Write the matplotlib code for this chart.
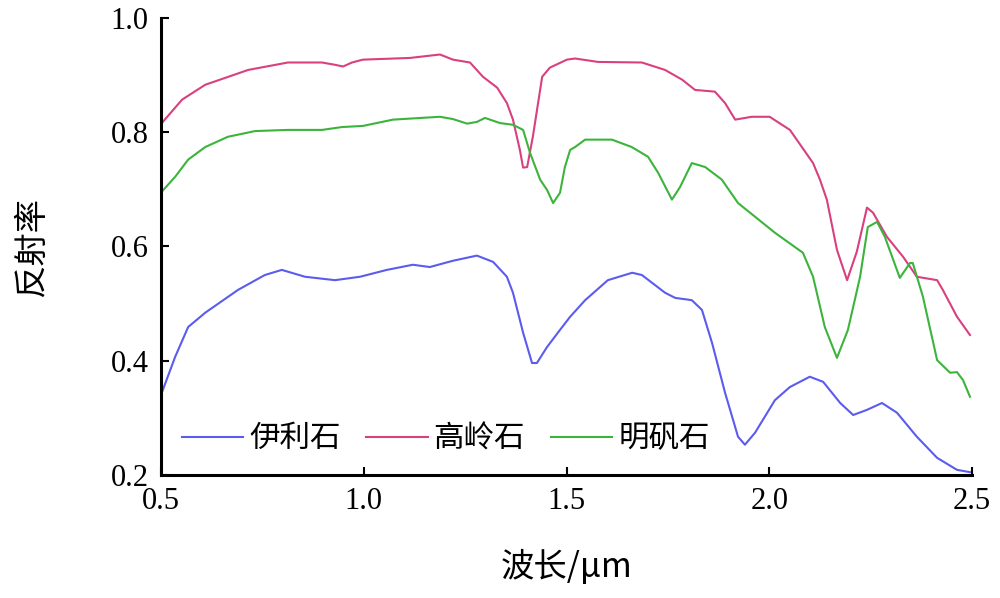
import matplotlib
matplotlib.use("Agg")
import matplotlib.pyplot as plt

plt.rcParams['font.family'] = ['Liberation Serif', 'Noto Sans CJK SC', 'DejaVu Sans']

# Illite (伊利石)
illite_x = [0.502, 0.535, 0.567, 0.609, 0.690, 0.756, 0.798, 0.855, 0.929, 0.991,
            1.057, 1.121, 1.163, 1.220, 1.279, 1.319, 1.353, 1.368, 1.393, 1.415,
            1.427, 1.452, 1.484, 1.509, 1.546, 1.602, 1.662, 1.686, 1.743, 1.768,
            1.809, 1.834, 1.859, 1.891, 1.923, 1.940, 1.965, 2.014, 2.051, 2.100,
            2.133, 2.175, 2.207, 2.241, 2.278, 2.315, 2.364, 2.414, 2.463, 2.495]
illite_y = [0.344, 0.407, 0.459, 0.484, 0.524, 0.550, 0.559, 0.547, 0.541, 0.547,
            0.559, 0.568, 0.564, 0.575, 0.584, 0.573, 0.547, 0.519, 0.449, 0.396,
            0.396, 0.424, 0.454, 0.477, 0.506, 0.541, 0.554, 0.550, 0.519, 0.510,
            0.506, 0.489, 0.431, 0.344, 0.267, 0.253, 0.274, 0.331, 0.354, 0.372,
            0.363, 0.326, 0.305, 0.314, 0.326, 0.309, 0.267, 0.230, 0.209, 0.205]

# Kaolinite (高岭石)
kaolin_x = [0.502, 0.552, 0.609, 0.715, 0.813, 0.897, 0.929, 0.949, 0.971, 0.998,
            1.114, 1.188, 1.220, 1.262, 1.294, 1.329, 1.353, 1.368, 1.385, 1.393,
            1.403, 1.417, 1.440, 1.459, 1.501, 1.521, 1.578, 1.686, 1.743, 1.785,
            1.817, 1.866, 1.891, 1.916, 1.957, 2.001, 2.051, 2.108, 2.125, 2.142,
            2.167, 2.192, 2.216, 2.241, 2.256, 2.290, 2.330, 2.364, 2.414, 2.428,
            2.463, 2.495]
kaolin_y = [0.816, 0.857, 0.883, 0.909, 0.922, 0.922, 0.918, 0.915, 0.922, 0.927,
            0.930, 0.936, 0.927, 0.922, 0.897, 0.878, 0.851, 0.822, 0.769, 0.738,
            0.739, 0.792, 0.897, 0.913, 0.927, 0.929, 0.923, 0.922, 0.909, 0.892,
            0.874, 0.871, 0.851, 0.822, 0.827, 0.827, 0.804, 0.746, 0.717, 0.682,
            0.594, 0.541, 0.591, 0.668, 0.659, 0.617, 0.582, 0.547, 0.541, 0.524,
            0.477, 0.445]

# Alunite (明矾石)
alunite_x = [0.502, 0.535, 0.567, 0.609, 0.665, 0.732, 0.813, 0.897, 0.946, 0.998,
             1.072, 1.188, 1.220, 1.255, 1.279, 1.299, 1.336, 1.368, 1.393, 1.410,
             1.435, 1.452, 1.467, 1.484, 1.496, 1.509, 1.521, 1.546, 1.612, 1.661,
             1.701, 1.726, 1.760, 1.780, 1.809, 1.842, 1.883, 1.923, 1.965, 2.014,
             2.083, 2.108, 2.137, 2.167, 2.194, 2.224, 2.243, 2.266, 2.285, 2.322,
             2.347, 2.354, 2.379, 2.414, 2.446, 2.463, 2.478, 2.495]
alunite_y = [0.696, 0.722, 0.752, 0.774, 0.792, 0.802, 0.804, 0.804, 0.809, 0.811,
             0.822, 0.827, 0.823, 0.815, 0.818, 0.825, 0.816, 0.813, 0.804, 0.764,
             0.717, 0.699, 0.676, 0.694, 0.739, 0.769, 0.774, 0.787, 0.787, 0.774,
             0.757, 0.729, 0.682, 0.704, 0.746, 0.739, 0.717, 0.676, 0.652, 0.624,
             0.589, 0.547, 0.459, 0.405, 0.454, 0.547, 0.634, 0.643, 0.617, 0.545,
             0.571, 0.571, 0.512, 0.401, 0.379, 0.380, 0.366, 0.337]

names = ['伊利石', '高岭石', '明矾石']
colors = ['#5b5bf0', '#d8407f', '#3cb43c']

xticks = [0.5, 1.0, 1.5, 2.0, 2.5]
yticks = [0.2, 0.4, 0.6, 0.8, 1.0]

fig = plt.figure(figsize=(10, 5.98), dpi=100)
ax = fig.add_axes([0.161, 0.2057, 0.811, 0.7643])

for xs, ys, c, n in zip([illite_x, kaolin_x, alunite_x],
                        [illite_y, kaolin_y, alunite_y], colors, names):
    ax.plot(xs, ys, color=c, lw=1.5, label=n, solid_joinstyle='round')

ax.set_xlim(0.5, 2.5)
ax.set_ylim(0.2, 1.0)
ax.set_xticks(xticks)
ax.set_xticklabels([f"{t:.1f}" for t in xticks])
ax.set_yticks(yticks)
ax.set_yticklabels([f"{t:.1f}" for t in yticks])

for s in ['top', 'right']:
    ax.spines[s].set_visible(False)
for s in ['left', 'bottom']:
    ax.spines[s].set_linewidth(2.2)
ax.tick_params(direction='in', length=6, width=1.5, labelsize=22, pad=9)

ax.set_xlabel('波长/μm', fontsize=24, labelpad=24,
              family=['Noto Sans CJK SC', 'Liberation Serif'])
ax.set_ylabel('反射率', fontsize=24, labelpad=44,
              family=['Noto Sans CJK SC'])

ax.legend(loc='lower left', bbox_to_anchor=(0.003, 0.005), ncol=3, frameon=False,
          prop={'family': ['Noto Sans CJK SC'], 'size': 22},
          handlelength=2.0, handletextpad=0.2, columnspacing=0.85,
          borderaxespad=0.2)

fig.savefig('out.png', dpi=100)
